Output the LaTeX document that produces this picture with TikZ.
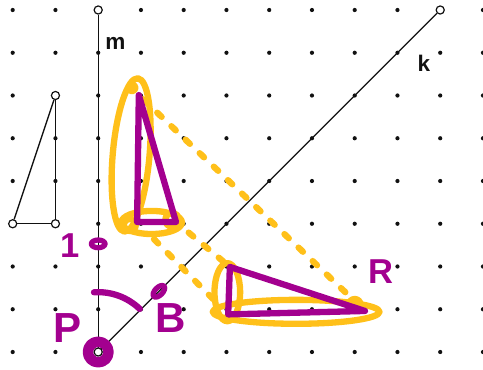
\documentclass[tikz,border=0pt]{standalone}
\usepackage{fontspec}
\setsansfont{Liberation Sans}
\usetikzlibrary{calc}
\definecolor{PenMagenta}{HTML}{A3008F}
\definecolor{PenYellow}{HTML}{FFC01A}
\definecolor{GridInk}{HTML}{111111}
\tikzset{
  gridline/.style={draw=GridInk,line width=0.9pt},
  griddot/.style={circle,fill=GridInk,inner sep=0pt,minimum size=2.8pt},
  openpt/.style={circle,draw=GridInk,fill=white,line width=0.8pt,
    inner sep=0pt,minimum size=5.4pt},
  linelabel/.style={font=\sffamily\bfseries\fontsize{15}{15}\selectfont,
    text=GridInk,inner sep=0pt},
  magpen/.style={draw=PenMagenta,line width=4.2pt,line cap=round,line join=round},
  yelpen/.style={draw=PenYellow,line width=4.2pt,line cap=round,line join=round},
  yeldash/.style={yelpen,dash pattern=on 4pt off 9pt},
  handtext/.style={font=\sffamily\bfseries\fontsize{28}{28}\selectfont,
    text=PenMagenta,inner sep=0pt}
}

\begin{document}
\begin{tikzpicture}
  \useasboundingbox (-0.297,-0.398) rectangle (11.001,8.234);

  % dot grid
  \foreach \i in {0,...,11}
    \foreach \j in {0,...,8}
      \node[griddot] (d-\i-\j) at (\i,\j) {};

  % lines m and k
  \coordinate (p0) at (2,0);
  \node[openpt] (mtop) at (2,8) {};
  \node[openpt] (ktop) at (10,8) {};
  \draw[gridline] (p0) -- (mtop);
  \draw[gridline] (p0) -- (ktop);
  \node[linelabel] (mlab) at (2.40,7.22) {m};
  \node[linelabel] (klab) at (9.62,6.75) {k};

  % small triangle
  \node[openpt] (t1) at (1,6) {};
  \node[openpt] (t2) at (0,3) {};
  \node[openpt] (t3) at (1,3) {};
  \draw[gridline] (t1) -- (t3);
  \draw[gridline] (t3) -- (t2);
  \draw[gridline] (t2) -- (t1);

  % vertices of the two sketched triangles
  \coordinate (a1) at (2.95,6.01);
  \coordinate (b1) at (2.91,3.04);
  \coordinate (c1) at (3.82,3.04);
  \coordinate (a2) at (8.24,0.96);
  \coordinate (b2) at (5.04,0.88);
  \coordinate (c2) at (5.08,1.99);

  % yellow marks
  \draw[yelpen,rotate around={-5:(2.77,4.61)}] (2.77,4.61) ellipse (0.43 and 1.8);
  \draw[yelpen] (3.25,3.03) ellipse (0.71 and 0.27);
  \draw[yelpen] (3.73,3.09) circle (0.16);
  \draw[yelpen] (2.74,2.97) circle (0.14);
  \draw[yelpen] (2.79,6.18) circle (0.08);
  \draw[yelpen] (5.02,1.40) ellipse (0.30 and 0.68);
  \draw[yelpen] (6.63,0.94) ellipse (1.95 and 0.28);
  \draw[yelpen] (8.0,1.1) circle (0.14);
  \draw[yeldash,shorten <=4pt,shorten >=12pt] (a1) -- (a2);
  \draw[yeldash,shorten <=16pt,shorten >=14pt] (b1) -- (b2);
  \draw[yeldash,shorten <=11pt,shorten >=3pt] (c1) -- (c2);

  % magenta triangles
  \draw[magpen] (a1) -- (b1) -- (c1) -- cycle;
  \draw[magpen] (a2) -- (b2) -- (c2) -- cycle;

  % magenta notes
  \draw[magpen,line width=7pt] (p0) circle (0.24);
  \node[openpt] (P) at (p0) {};
  \draw[magpen] ($(p0)+(94:1.4)$) arc[start angle=94,end angle=46,radius=1.4];
  \draw[magpen,line width=3.5pt] (2,2.53) ellipse (0.16 and 0.09);
  \draw[magpen,line width=3.5pt,rotate around={45:(3.42,1.42)}] (3.42,1.42) ellipse (0.17 and 0.09);
  \node[handtext] (plab) at (1.29,0.56) {P};
  \node[handtext] (blab) at (3.70,0.80) {B};
  \node[handtext,font=\sffamily\bfseries\fontsize{23}{23}\selectfont] (onelab) at (1.34,2.50) {1};
  \node[handtext,font=\sffamily\bfseries\fontsize{23}{23}\selectfont] (rlab) at (8.62,1.87) {R};
\end{tikzpicture}
\end{document}
